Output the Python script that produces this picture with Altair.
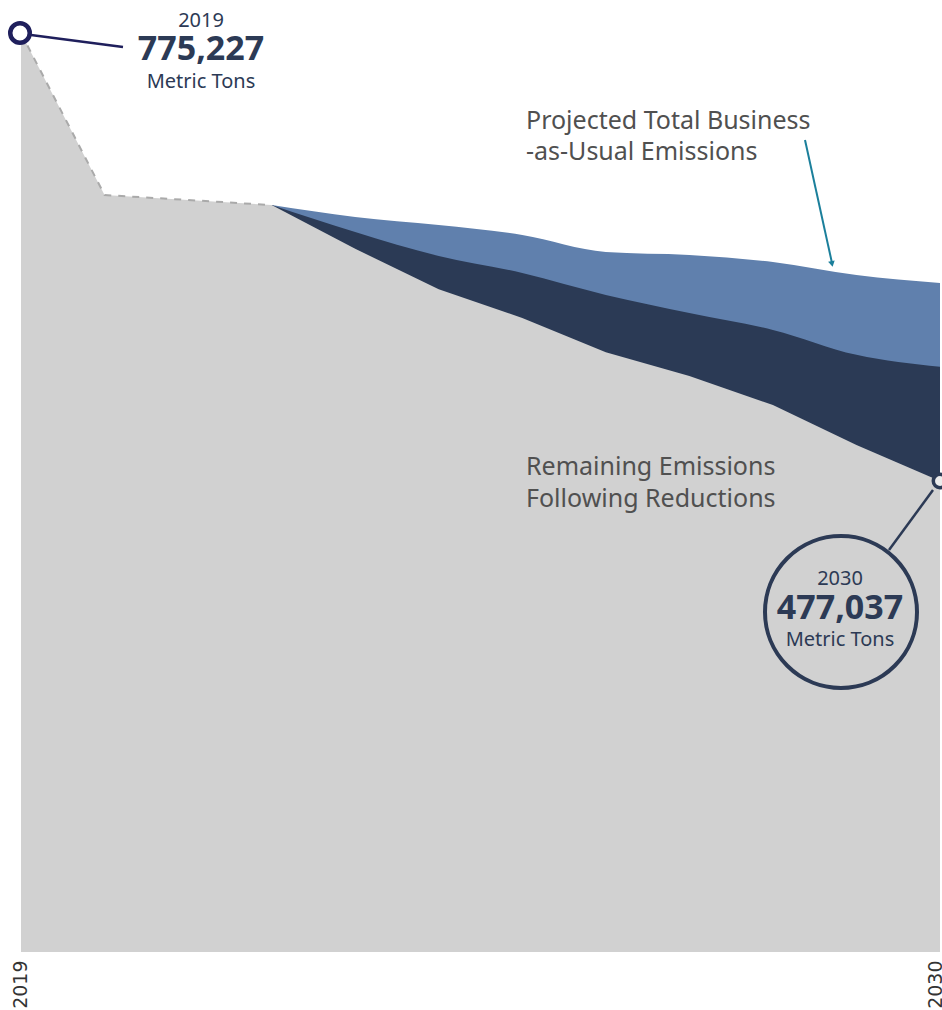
import altair as alt
import pandas as pd

# ---- data ----
hist_years = [2019, 2020, 2021, 2022]
hist_values = [775227, 667400, 664100, 660700]

proj_years = [2022, 2023, 2024, 2025, 2026, 2027, 2028, 2029, 2030]
remaining = [660700, 631600, 604700, 585500, 562800, 546900, 527600, 501000, 477037]
reduced_top = [660700, 642800, 626800, 615500, 600900, 588900, 577600, 561000, 553000]
bau = [660700, 652800, 647400, 640800, 629500, 627500, 622800, 614200, 608800]

start_label = ["2019", "775,227", "Metric Tons"]
end_label = ["2030", "477,037", "Metric Tons"]
bau_label = ["Projected Total Business", "-as-Usual Emissions"]
rem_label = ["Remaining Emissions", "Following Reductions"]

y_min, y_max = 163540, 775227

gray_df = pd.DataFrame({"year": hist_years + proj_years[1:],
                        "value": hist_values + remaining[1:]})
gray_df["base"] = y_min
proj_df = pd.DataFrame({"year": proj_years, "remaining": remaining,
                        "reduced": reduced_top, "bau": bau})
proj_df["base"] = y_min
hist_df = pd.DataFrame({"year": hist_years, "value": hist_values})
pt_start = pd.DataFrame({"year": [hist_years[0]], "value": [hist_values[0]]})
pt_end = pd.DataFrame({"year": [proj_years[-1]], "value": [remaining[-1]]})

xs = alt.Scale(domain=[2019, 2030], nice=False, zero=False)
ys = alt.Scale(domain=[y_min, y_max], nice=False, zero=False)

XAXIS = alt.Axis(
    values=[2019, 2030], format="d", labelAngle=270, domain=False, ticks=False,
    grid=False, title=None, labelPadding=8, labelFont="DejaVu Sans",
    labelFontSize=19, labelColor="#333333", labelFlush=False, labelOverlap=False,
    labelOffset={"expr": "datum.value == 2030 ? -5 : -1"})
X = alt.X("year:Q", scale=xs, axis=XAXIS)
YV = alt.Y("value:Q", scale=ys, axis=None)

GRAY = "#d1d1d1"
DARK = "#2b3a55"
LIGHT = "#6080ad"
NAVY = "#1f1f5c"
SLATE = "#2c3a55"
TEAL = "#1b7f9b"
FONT = "Noto Sans"

bau_area = alt.Chart(proj_df).mark_area(color=LIGHT, interpolate="monotone").encode(
    x=X, y=alt.Y("bau:Q", scale=ys, axis=None), y2="base:Q")
dark_area = alt.Chart(proj_df).mark_area(color=DARK, interpolate="monotone").encode(
    x=X, y=alt.Y("reduced:Q", scale=ys, axis=None), y2="base:Q")
gray_area = alt.Chart(gray_df).mark_area(color=GRAY, interpolate="linear").encode(
    x=X, y=YV, y2="base:Q")
hist_line = alt.Chart(hist_df).mark_line(color="#aaaaaa", strokeWidth=2,
                                         strokeDash=[7, 7]).encode(x=X, y=YV)

# start annotation
start_rule = alt.Chart(pt_start).mark_rule(color=NAVY, strokeWidth=2.5,
                                           xOffset=10, yOffset=2,
                                           x2Offset=102, y2Offset=14).encode(
    x=X, y=YV, x2="year:Q", y2="value:Q")
start_circle = alt.Chart(pt_start).mark_point(shape="circle", size=380, fill="white",
                                              fillOpacity=1, stroke=NAVY,
                                              strokeWidth=4.5, opacity=1,
                                              xOffset=-1).encode(x=X, y=YV)
start_t1 = alt.Chart(pt_start).mark_text(text=start_label[0], dx=180, dy=-12, font=FONT,
                                         fontSize=20, color=SLATE).encode(x=X, y=YV)
start_t2 = alt.Chart(pt_start).mark_text(text=start_label[1], dx=180, dy=17, font=FONT,
                                         fontSize=34, fontWeight="bold",
                                         color=SLATE).encode(x=X, y=YV)
start_t3 = alt.Chart(pt_start).mark_text(text=start_label[2], dx=180, dy=49, font=FONT,
                                         fontSize=20, color=SLATE).encode(x=X, y=YV)

# end annotation
end_rule = alt.Chart(pt_end).mark_rule(color=SLATE, strokeWidth=2.5,
                                       xOffset=-7, yOffset=9,
                                       x2Offset=-51, y2Offset=69).encode(
    x=X, y=YV, x2="year:Q", y2="value:Q")
end_small = alt.Chart(pt_end).mark_point(shape="circle", size=180, fill="#ececec",
                                         fillOpacity=1, stroke=SLATE, strokeWidth=3.5,
                                         opacity=1).encode(x=X, y=YV)
end_big = alt.Chart(pt_end).mark_point(shape="circle", size=23104, filled=False,
                                       stroke=SLATE, strokeWidth=4, opacity=1,
                                       xOffset=-99, yOffset=131).encode(x=X, y=YV)
end_t1 = alt.Chart(pt_end).mark_text(text=end_label[0], dx=-100, dy=98, font=FONT,
                                     fontSize=20, color=SLATE).encode(x=X, y=YV)
end_t2 = alt.Chart(pt_end).mark_text(text=end_label[1], dx=-100, dy=128, font=FONT,
                                     fontSize=34, fontWeight="bold",
                                     color=SLATE).encode(x=X, y=YV)
end_t3 = alt.Chart(pt_end).mark_text(text=end_label[2], dx=-100, dy=159, font=FONT,
                                     fontSize=20, color=SLATE).encode(x=X, y=YV)

# label annotations
lab = dict(font=FONT, fontSize=25, color="#505050", align="left", baseline="middle")
bau_t1 = alt.Chart(pt_start).mark_text(text=bau_label[0], **lab).encode(
    x=alt.value(505), y=alt.value(88))
bau_t2 = alt.Chart(pt_start).mark_text(text=bau_label[1], **lab).encode(
    x=alt.value(505), y=alt.value(119))
rem_t1 = alt.Chart(pt_start).mark_text(text=rem_label[0], **lab).encode(
    x=alt.value(505), y=alt.value(434))
rem_t2 = alt.Chart(pt_start).mark_text(text=rem_label[1], **lab).encode(
    x=alt.value(505), y=alt.value(466))
arrow = alt.Chart(pt_start).mark_rule(color=TEAL, strokeWidth=2).encode(
    x=alt.value(784), y=alt.value(107), x2=alt.value(811), y2=alt.value(230))
arrow_head = alt.Chart(pt_start).mark_point(shape="triangle-down", size=45, filled=True,
                                            color=TEAL, opacity=1, angle=348).encode(
    x=alt.value(811), y=alt.value(231))

chart = alt.layer(
    bau_area, dark_area, gray_area, hist_line,
    start_rule, start_circle, start_t1, start_t2, start_t3,
    end_rule, end_big, end_small, end_t1, end_t2, end_t3,
    bau_t1, bau_t2, rem_t1, rem_t2, arrow, arrow_head,
).properties(
    width=919, height=919, autosize="none", background="white",
    padding={"left": 21, "top": 33, "right": 2, "bottom": 58},
).configure_view(strokeWidth=0, stroke="transparent")

chart.save("out.html", embed_options={"renderer": "svg", "actions": False})
